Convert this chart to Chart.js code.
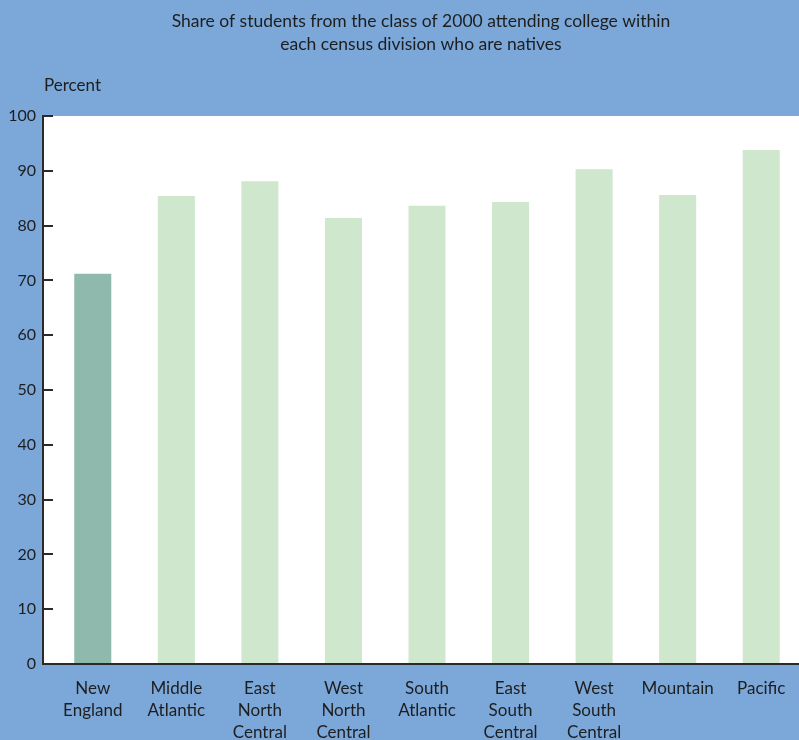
<!DOCTYPE html>
<html>
<head>
<meta charset="utf-8">
<script src="https://cdn.jsdelivr.net/npm/chart.js@4/dist/chart.umd.min.js"></script>
<style>
  html, body { margin: 0; padding: 0; overflow: hidden; background: #7ba7d9; }
  #wrap { width: 803px; height: 740px; }
</style>
</head>
<body>
<div id="wrap"><canvas id="c" width="803" height="740"></canvas></div>
<script>
// Census divisions (multi-line labels) and the native share of college attendees
const divisions = [
  ["New", "England"],
  ["Middle", "Atlantic"],
  ["East", "North", "Central"],
  ["West", "North", "Central"],
  ["South", "Atlantic"],
  ["East", "South", "Central"],
  ["West", "South", "Central"],
  ["Mountain"],
  ["Pacific"]
];
const nativeShare = [71.2, 85.4, 88.1, 81.4, 83.6, 84.3, 90.3, 85.6, 93.8];
const highlighted = ["New England"];
const yMin = 0, yMax = 100, yStep = 10;
const titleLines = [
  "Share of students from the class of 2000 attending college within",
  "each census division who are natives"
];
const yAxisLabel = "Percent";

const BG = "#7ba7d9";
const BAR_DARK = "#8eb9ac";
const BAR_LIGHT = "#cfe7cc";
const INK = "#1e1e1e";
const FONT = "Lato, 'Open Sans', sans-serif";
const AXIS_X = 43;

const frame = {
  id: "frame",
  beforeDraw(chart) {
    const { ctx, chartArea, width, height } = chart;
    ctx.save();
    ctx.fillStyle = BG;
    ctx.fillRect(0, 0, width, height);
    ctx.fillStyle = "#ffffff";
    ctx.fillRect(AXIS_X, chartArea.top, width - AXIS_X, chartArea.bottom - chartArea.top);
    ctx.restore();
  },
  afterDraw(chart) {
    const { ctx, chartArea, width } = chart;
    const y = chart.scales.y;
    ctx.save();
    ctx.strokeStyle = "#2a2a2a";
    ctx.lineWidth = 2;
    // vertical axis line
    ctx.beginPath();
    ctx.moveTo(AXIS_X, chartArea.top - 1);
    ctx.lineTo(AXIS_X, chartArea.bottom + 1);
    ctx.stroke();
    // inward tick marks
    for (let v = yMin; v <= yMax; v += yStep) {
      const py = Math.round(y.getPixelForValue(v));
      ctx.beginPath();
      ctx.moveTo(AXIS_X, py);
      ctx.lineTo(AXIS_X + 10, py);
      ctx.stroke();
    }
    // baseline
    ctx.beginPath();
    ctx.moveTo(AXIS_X - 1, chartArea.bottom);
    ctx.lineTo(width, chartArea.bottom);
    ctx.stroke();

    // title, centred over the plot
    ctx.fillStyle = INK;
    ctx.font = "17.5px " + FONT;
    ctx.textAlign = "center";
    ctx.textBaseline = "middle";
    const cx = (AXIS_X + 799) / 2;
    ctx.fillText(titleLines[0], cx, 21);
    ctx.fillText(titleLines[1], cx, 44);
    // unit label
    ctx.font = "17px " + FONT;
    ctx.textAlign = "left";
    ctx.fillText(yAxisLabel, 44, 86);
    ctx.restore();
  }
};

new Chart(document.getElementById("c"), {
  type: "bar",
  data: {
    labels: divisions,
    datasets: [{
      data: nativeShare,
      backgroundColor: divisions.map(d => highlighted.includes(d.join(" ")) ? BAR_DARK : BAR_LIGHT),
      borderWidth: 0,
      barPercentage: 0.443,
      categoryPercentage: 1
    }]
  },
  options: {
    responsive: false,
    animation: false,
    devicePixelRatio: 1,
    layout: { padding: { top: 116, left: 0, right: 0, bottom: 0 } },
    plugins: { legend: { display: false }, tooltip: { enabled: false }, title: { display: false } },
    scales: {
      x: {
        offset: true,
        grid: { display: false, drawTicks: false },
        border: { display: false },
        ticks: {
          color: INK,
          font: { family: FONT, size: 17, lineHeight: 1.3 },
          padding: 13,
          maxRotation: 0,
          autoSkip: false
        },
        afterFit(scale) { scale.height = 76; }
      },
      y: {
        min: yMin,
        max: yMax,
        grid: { display: false, drawTicks: false },
        border: { display: false },
        ticks: {
          stepSize: yStep,
          color: INK,
          font: { family: FONT, size: 16 },
          padding: 15
        },
        afterFit(scale) { scale.width = 51; }
      }
    }
  },
  plugins: [frame]
});
</script>
</body>
</html>
